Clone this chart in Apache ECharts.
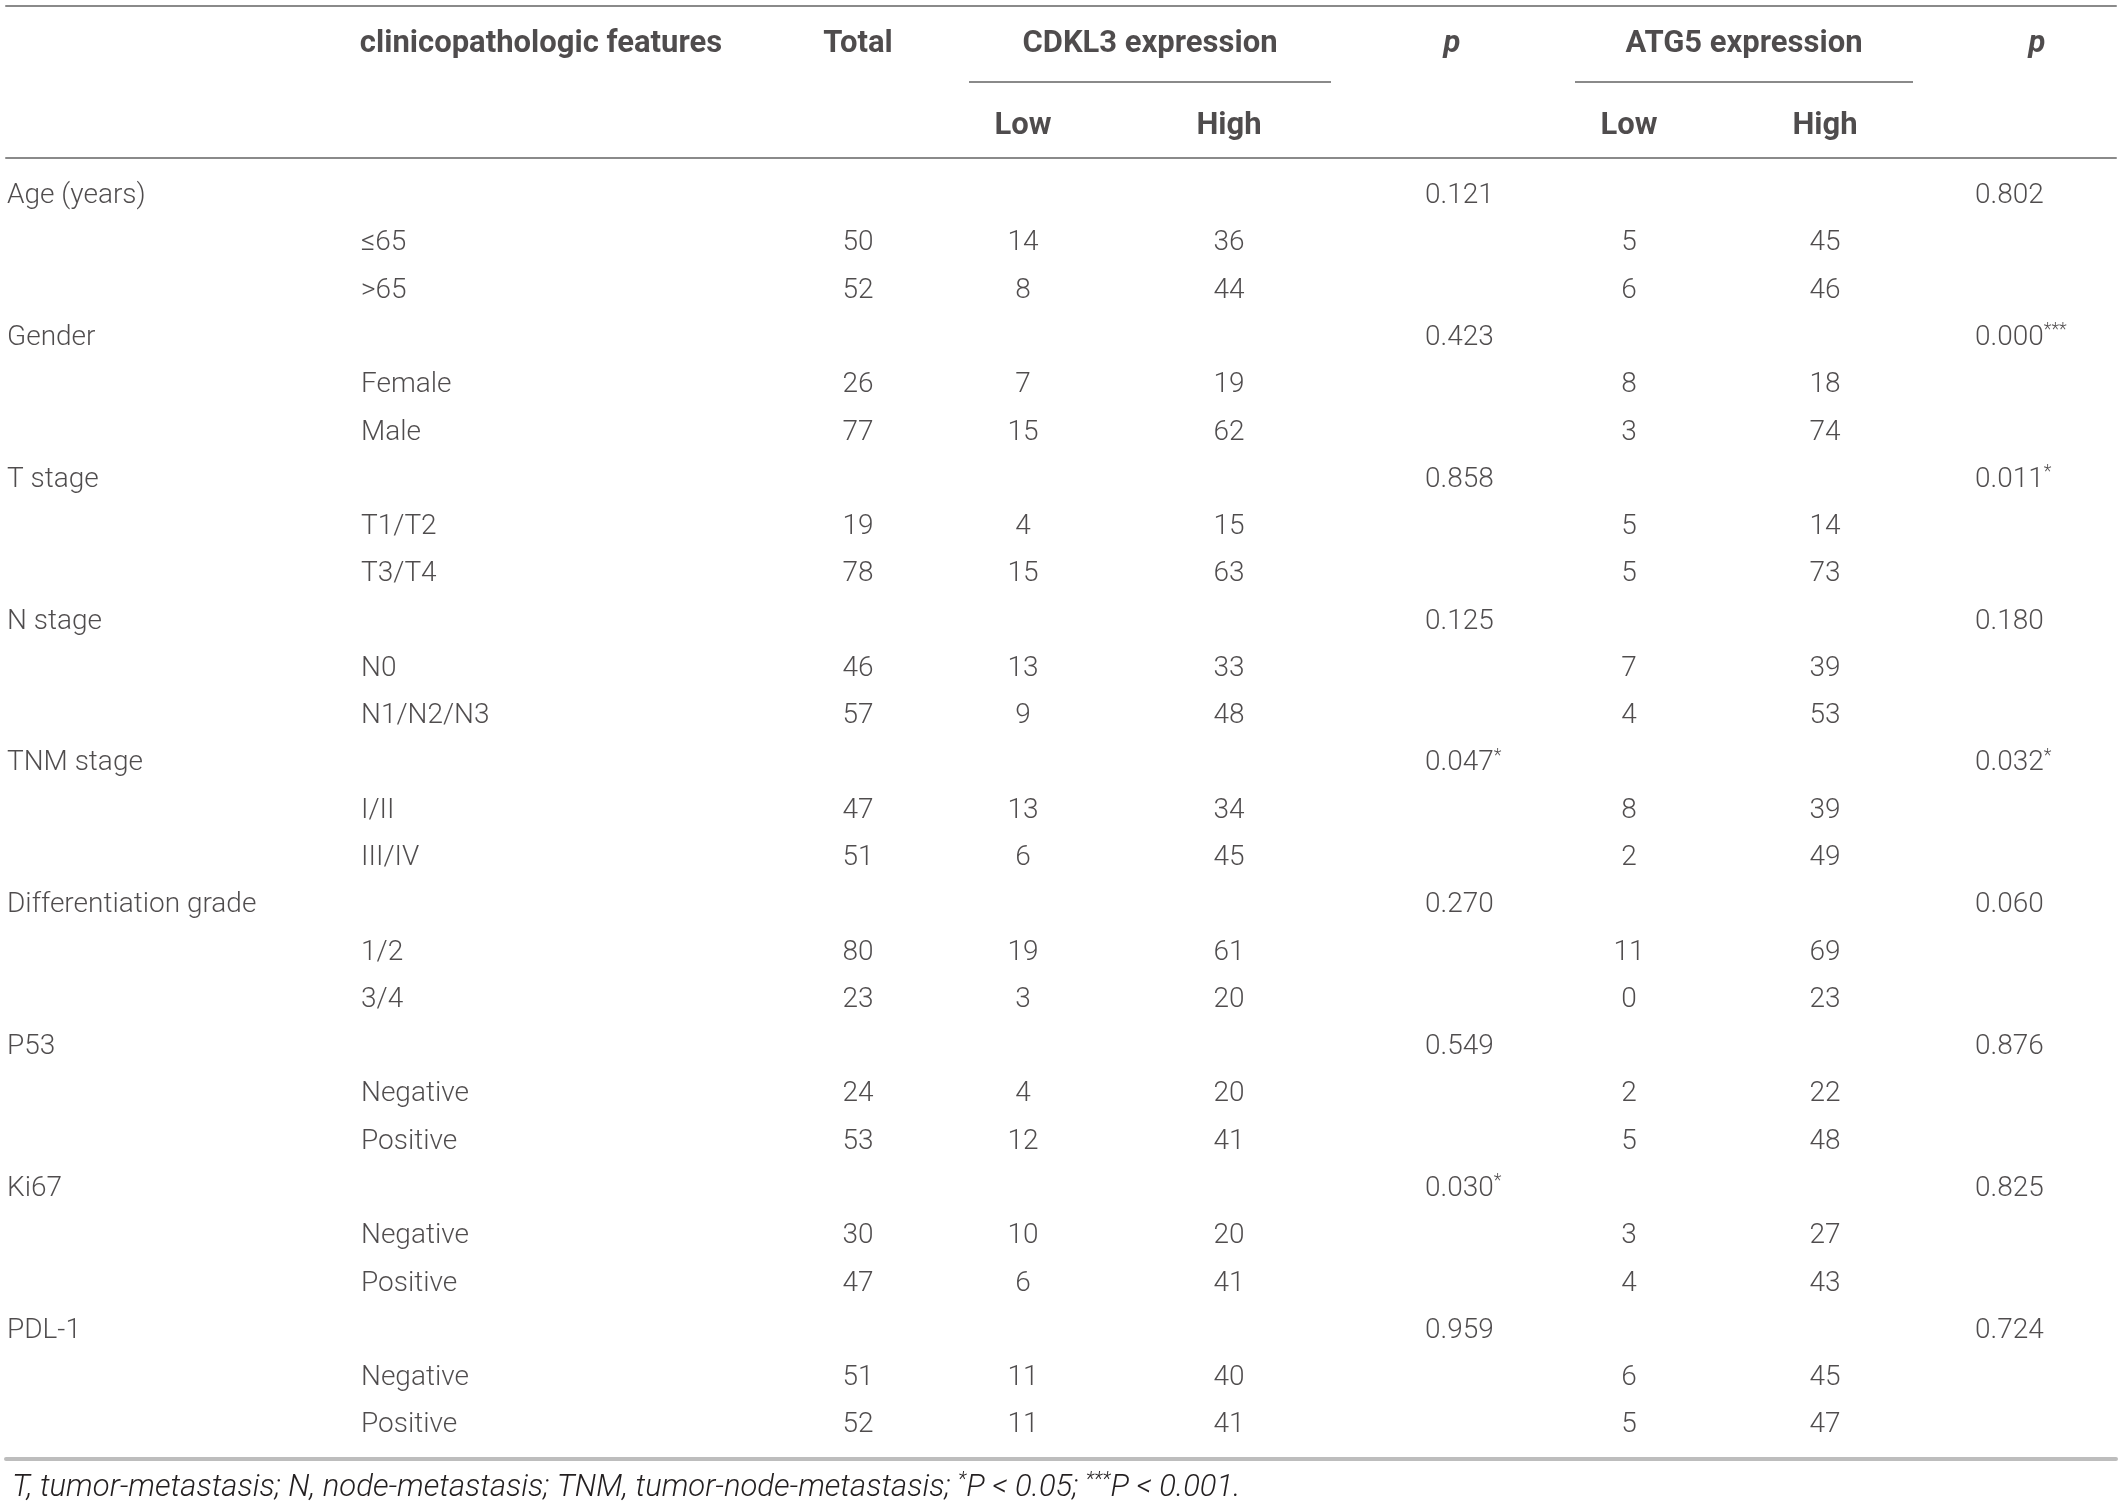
<!DOCTYPE html>
<html>
<head>
<meta charset="utf-8">
<script src="https://cdn.jsdelivr.net/npm/echarts@6/dist/echarts.min.js"></script>
<style>
  html, body { margin: 0; padding: 0; background: #fff; }
  #chart { width: 2118px; height: 1506px; }
</style>
</head>
<body>
<div id="chart"></div>
<script>
// table data
var groups = ['Age (years)', 'Gender', 'T stage', 'N stage', 'TNM stage',
    'Differentiation grade', 'P53', 'Ki67', 'PDL-1'];
var subgroups = [['≤65', '>65'], ['Female', 'Male'], ['T1/T2', 'T3/T4'], ['N0', 'N1/N2/N3'],
    ['I/II', 'III/IV'], ['1/2', '3/4'], ['Negative', 'Positive'], ['Negative', 'Positive'],
    ['Negative', 'Positive']];
var totals = [[50, 52], [26, 77], [19, 78], [46, 57], [47, 51], [80, 23], [24, 53], [30, 47], [51, 52]];
var cdkl3Low = [[14, 8], [7, 15], [4, 15], [13, 9], [13, 6], [19, 3], [4, 12], [10, 6], [11, 11]];
var cdkl3High = [[36, 44], [19, 62], [15, 63], [33, 48], [34, 45], [61, 20], [20, 41], [20, 41], [40, 41]];
var cdkl3P = ['0.121', '0.423', '0.858', '0.125', '0.047*', '0.270', '0.549', '0.030*', '0.959'];
var atg5Low = [[5, 6], [8, 3], [5, 5], [7, 4], [8, 2], [11, 0], [2, 5], [3, 4], [6, 5]];
var atg5High = [[45, 46], [18, 74], [14, 73], [39, 53], [39, 49], [69, 23], [22, 48], [27, 43], [45, 47]];
var atg5P = ['0.802', '0.000***', '0.011*', '0.180', '0.032*', '0.060', '0.876', '0.825', '0.724'];
var headerTop = ['clinicopathologic features', 'Total', 'CDKL3 expression', 'p', 'ATG5 expression', 'p'];
var headerSub = ['Low', 'High', 'Low', 'High'];
var footnote = 'T, tumor-metastasis; N, node-metastasis; TNM, tumor-node-metastasis; *P < 0.05; ***P < 0.001.';

(function () {
    'use strict';

    var FONT = 'Roboto, "Liberation Sans", sans-serif';
    var TEXT = '#231f20';
    var RULE = '#8a8a8a';
    var SIZE = 28;
    var HEAD = 31;

    // column anchors on the shared x scale (pixel-like layout units)
    var col = {
        group: 7, sub: 361, total: 858, cLow: 1023, cHigh: 1229, cP: 1425,
        aLow: 1629, aHigh: 1825, aP: 1975
    };

    // flatten groups into table rows
    var rows = [];
    for (var g = 0; g < groups.length; g++) {
        rows.push({ group: groups[g], cP: cdkl3P[g], aP: atg5P[g] });
        for (var k = 0; k < 2; k++) {
            rows.push({
                sub: subgroups[g][k], total: totals[g][k],
                cLow: cdkl3Low[g][k], cHigh: cdkl3High[g][k],
                aLow: atg5Low[g][k], aHigh: atg5High[g][k]
            });
        }
    }
    var rowIds = rows.map(function (r, i) { return String(i); });

    var rich = {
        n: { fontFamily: FONT, fontSize: SIZE, fontWeight: 300, color: TEXT, lineHeight: 32 },
        sup: { fontFamily: FONT, fontSize: 18, fontWeight: 300, color: TEXT, lineHeight: 18, verticalAlign: 'top' }
    };

    function pText(s) {
        var m = /^([^*]*)(\**)$/.exec(s);
        return m[2] ? '{n|' + m[1] + '}{sup|' + m[2] + '}' : '{n|' + s + '}';
    }

    // footnote with superscript asterisks
    function noteText(s) {
        return s.split(/(\*+)/).map(function (part) {
            if (!part) return '';
            return /^\*+$/.test(part) ? '{sup|' + part + '}' : '{t|' + part + '}';
        }).join('');
    }

    function bodySeries(key, align) {
        var data = [];
        rows.forEach(function (r, i) {
            if (r[key] !== undefined) {
                data.push({ value: [col[key], i], name: String(r[key]) });
            }
        });
        return {
            type: 'scatter',
            xAxisIndex: 2,
            yAxisIndex: 1,
            symbolSize: 0,
            silent: true,
            data: data,
            label: {
                show: true,
                position: align === 'left' ? 'right' : 'inside',
                distance: 0,
                align: align,
                verticalAlign: 'middle',
                formatter: function (p) { return pText(p.name); },
                rich: rich
            }
        };
    }

    function headerSeries(items, yv, offY) {
        return {
            type: 'scatter',
            xAxisIndex: 0,
            yAxisIndex: 0,
            symbolSize: 0,
            silent: true,
            data: items.map(function (it) {
                return { value: [it[1], yv], name: it[0], italic: it[2] };
            }),
            label: {
                show: true,
                position: 'inside',
                offset: [0, offY],
                formatter: function (p) { return p.data.italic ? '{i|' + p.name + '}' : '{b|' + p.name + '}'; },
                rich: {
                    b: { fontFamily: FONT, fontSize: HEAD, fontWeight: 'bold', color: TEXT },
                    i: { fontFamily: FONT, fontSize: HEAD, fontWeight: 'bold', fontStyle: 'italic', color: TEXT }
                }
            }
        };
    }

    var hiddenValueX = function (gridIndex, position, lineStyle, offset) {
        return {
            type: 'value', gridIndex: gridIndex, min: 6, max: 2116, position: position,
            offset: offset || 0,
            axisLine: { show: !!lineStyle, onZero: false, lineStyle: lineStyle || {} },
            axisTick: { show: false }, axisLabel: { show: false }, splitLine: { show: false }
        };
    };

    var chart = echarts.init(document.getElementById('chart'), null, { renderer: 'canvas' });

    var headerPos = [
        [headerTop[0], col.sub + 180],
        [headerTop[1], col.total],
        [headerTop[2], 1150],
        [headerTop[3], 1452, true],
        [headerTop[4], 1744],
        [headerTop[5], 2037, true]
    ];
    var subPos = [
        [headerSub[0], col.cLow], [headerSub[1], col.cHigh],
        [headerSub[2], col.aLow], [headerSub[3], col.aHigh]
    ];

    var option = {
        backgroundColor: '#fff',
        animation: false,
        title: {
            text: noteText(footnote),
            left: 7,
            top: 1466,
            textStyle: {
                rich: {
                    t: { fontFamily: FONT, fontSize: 31, fontWeight: 300, fontStyle: 'italic', color: TEXT, lineHeight: 34 },
                    sup: { fontFamily: FONT, fontSize: 20, fontWeight: 300, fontStyle: 'italic', color: TEXT, lineHeight: 20, verticalAlign: 'top' }
                }
            }
        },
        grid: [
            { left: 6, right: 2, top: 6, height: 152 },
            { left: 6, right: 2, top: 172.5, height: 1276.5 }
        ],
        xAxis: [
            hiddenValueX(0, 'top', { color: RULE, width: 2 }),
            hiddenValueX(0, 'bottom', { color: RULE, width: 2 }),
            hiddenValueX(1, 'bottom', { color: '#bdbdbd', width: 4 }, 10)
        ],
        yAxis: [
            {
                type: 'value', gridIndex: 0, min: 0, max: 2, inverse: true,
                axisLine: { show: false }, axisTick: { show: false },
                axisLabel: { show: false }, splitLine: { show: false }
            },
            {
                type: 'category', gridIndex: 1, data: rowIds, inverse: true,
                axisLine: { show: false }, axisTick: { show: false },
                axisLabel: { show: false }, splitLine: { show: false }
            }
        ],
        series: [
            headerSeries(headerPos, 0.5, 0),
            headerSeries(subPos, 1.5, 6),
            {
                type: 'line',
                xAxisIndex: 0,
                yAxisIndex: 0,
                data: [],
                silent: true,
                markLine: {
                    symbol: 'none',
                    silent: true,
                    label: { show: false },
                    lineStyle: { color: RULE, width: 2, type: 'solid' },
                    data: [
                        [{ coord: [969, 1] }, { coord: [1331, 1] }],
                        [{ coord: [1575, 1] }, { coord: [1913, 1] }]
                    ]
                }
            },
            bodySeries('group', 'left'),
            bodySeries('sub', 'left'),
            bodySeries('total', 'center'),
            bodySeries('cLow', 'center'),
            bodySeries('cHigh', 'center'),
            bodySeries('cP', 'left'),
            bodySeries('aLow', 'center'),
            bodySeries('aHigh', 'center'),
            bodySeries('aP', 'left')
        ]
    };

    chart.setOption(option);
})();
</script>
</body>
</html>
